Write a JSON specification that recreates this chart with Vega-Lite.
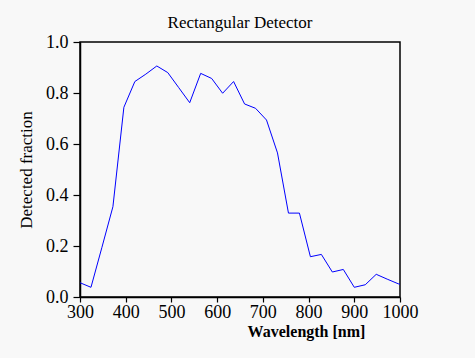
{
  "$schema": "https://vega.github.io/schema/vega-lite/v6.json",
  "autosize": "none",
  "width": 320,
  "height": 255,
  "padding": {"left": 80, "top": 42, "right": 75, "bottom": 61},
  "background": "#f8f8f8",
  "title": {
    "text": "Rectangular Detector",
    "font": "Liberation Serif",
    "fontSize": 17,
    "fontWeight": "normal",
    "color": "#000000",
    "offset": 1
  },
  "config": {
    "view": {"stroke": "#000000", "strokeWidth": 1.5},
    "axis": {
      "domainColor": "#000000",
      "domainWidth": 1.5,
      "tickColor": "#000000",
      "tickWidth": 1.2,
      "grid": false,
      "labelFont": "Liberation Serif",
      "labelFontSize": 18,
      "labelColor": "#000000",
      "titleFont": "Liberation Serif",
      "titleColor": "#000000"
    }
  },
  "data": {
    "values": [
      {"wl": 300, "f": 0.056},
      {"wl": 324, "f": 0.038},
      {"wl": 348, "f": 0.195},
      {"wl": 372, "f": 0.354},
      {"wl": 396, "f": 0.744},
      {"wl": 420, "f": 0.845},
      {"wl": 444, "f": 0.874},
      {"wl": 468, "f": 0.906},
      {"wl": 492, "f": 0.880},
      {"wl": 516, "f": 0.821},
      {"wl": 540, "f": 0.762},
      {"wl": 564, "f": 0.877},
      {"wl": 588, "f": 0.857},
      {"wl": 612, "f": 0.799},
      {"wl": 636, "f": 0.845},
      {"wl": 660, "f": 0.757},
      {"wl": 684, "f": 0.740},
      {"wl": 708, "f": 0.694},
      {"wl": 732, "f": 0.565},
      {"wl": 756, "f": 0.329},
      {"wl": 780, "f": 0.329},
      {"wl": 804, "f": 0.158},
      {"wl": 828, "f": 0.167},
      {"wl": 852, "f": 0.098},
      {"wl": 876, "f": 0.108},
      {"wl": 900, "f": 0.038},
      {"wl": 924, "f": 0.048},
      {"wl": 948, "f": 0.089},
      {"wl": 972, "f": 0.070},
      {"wl": 996, "f": 0.052},
      {"wl": 1000, "f": 0.050}
    ]
  },
  "mark": {"type": "line", "color": "#0000ff", "strokeWidth": 1, "clip": true},
  "encoding": {
    "x": {
      "field": "wl",
      "type": "quantitative",
      "scale": {"domain": [300, 1000], "nice": false, "zero": false},
      "axis": {
        "values": [300, 400, 500, 600, 700, 800, 900, 1000],
        "format": "d",
        "tickSize": 5,
        "labelPadding": 1,
        "title": "Wavelength [nm]",
        "titleFontSize": 16,
        "titleFontWeight": "bold",
        "titleX": 226,
        "titleAlign": "center",
        "titlePadding": 2,
        "labelFlush": false
      }
    },
    "y": {
      "field": "f",
      "type": "quantitative",
      "scale": {"domain": [0, 1], "nice": false},
      "axis": {
        "values": [0, 0.2, 0.4, 0.6, 0.8, 1.0],
        "format": ".1f",
        "tickSize": 7,
        "labelPadding": 5,
        "title": "Detected fraction",
        "titleFontSize": 17,
        "titleFontWeight": "normal",
        "titlePadding": 10,
        "labelFlush": false
      }
    }
  }
}
